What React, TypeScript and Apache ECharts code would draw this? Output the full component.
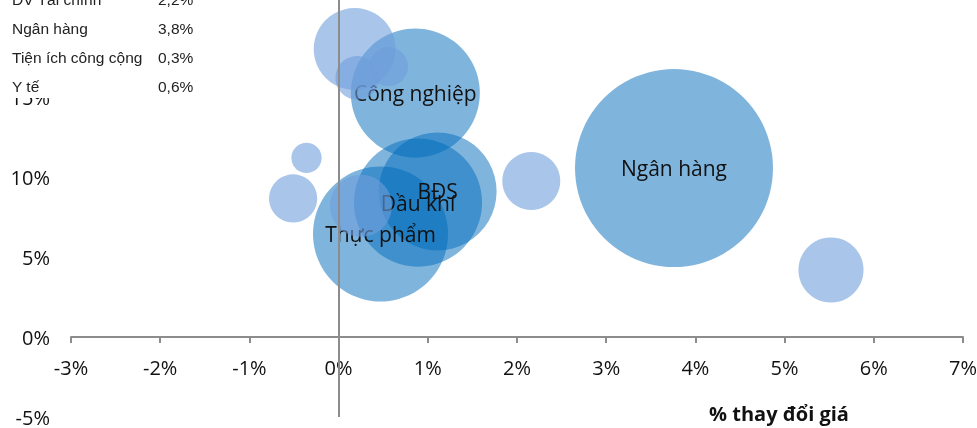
import React, { useEffect, useRef } from "react";
import * as echarts from "echarts";

// Labeled sectors (darker, semi-transparent bubbles)
const labeledNames = ["Công nghiệp", "Thực phẩm", "Dầu khí", "BĐS", "Ngân hàng"];
const labeledX = [0.86, 0.47, 0.89, 1.11, 3.76];
const labeledY = [15.25, 6.44, 8.4, 9.1, 10.56];
const labeledSize = [41.6, 45.6, 41.0, 34.8, 98.0];

// Unlabeled sectors (light bubbles)
const otherNames = ["", "", "Y tế", "", "", "Tiện ích công cộng", "DV Tài chính", ""];
const otherX = [0.18, 0.21, 0.56, -0.36, -0.51, 0.25, 2.16, 5.52];
const otherY = [18.0, 16.2, 16.9, 11.2, 8.66, 8.2, 9.75, 4.19];
const otherSize = [16.8, 4.8, 3.8, 2.3, 5.8, 9.6, 8.4, 10.6];

// Table in the top-left corner
const tableNames = ["DV Tài chính", "Ngân hàng", "Tiện ích công cộng", "Y tế"];
const tableValues = ["2,2%", "3,8%", "0,3%", "0,6%"];

const xTicks = { min: -3, max: 7, interval: 1 };
const yTicks = { min: -5, max: 25, interval: 5 };

const FONT = "'Open Sans', 'Noto Sans', sans-serif";

export default function App() {
  const ref = useRef<HTMLDivElement>(null);

  useEffect(() => {
    if (!ref.current) return;
    const chart = echarts.init(ref.current, undefined, { renderer: "svg" });
    const sizeFn = (v: number[]) => 20 * Math.sqrt(v[2]);

    const labeledData = labeledNames.map((n, i) => ({
      name: n,
      value: [labeledX[i], labeledY[i], labeledSize[i]],
    }));
    const otherData = otherNames.map((n, i) => ({
      name: n,
      value: [otherX[i], otherY[i], otherSize[i]],
    }));

    const rowY = [-1, 28, 57, 86];
    const tableGraphics: any[] = [
      {
        type: "rect",
        z: 100,
        shape: { x: 0, y: 0, width: 205, height: 98 },
        style: { fill: "#ffffff" },
      },
    ];
    tableNames.forEach((n, i) => {
      tableGraphics.push({
        type: "text",
        z: 101,
        x: 12,
        y: rowY[i],
        style: {
          text: n,
          fontFamily: "'Liberation Sans', Arial, sans-serif",
          fontSize: 15.5,
          fill: "#222",
          verticalAlign: "middle",
          align: "left",
        },
      });
      tableGraphics.push({
        type: "text",
        z: 101,
        x: 158,
        y: rowY[i],
        style: {
          text: tableValues[i],
          fontFamily: "'Liberation Sans', Arial, sans-serif",
          fontSize: 15.5,
          fill: "#222",
          verticalAlign: "middle",
          align: "left",
        },
      });
    });
    tableGraphics.push({
      type: "text",
      z: 101,
      x: 779,
      y: 413,
      style: {
        text: "% thay đổi giá",
        fontFamily: FONT,
        fontSize: 20,
        fontWeight: "bold",
        fill: "#111",
        verticalAlign: "middle",
        align: "center",
      },
    });

    chart.setOption({
      animation: false,
      grid: {
        left: 71,
        right: 14,
        top: -63,
        bottom: 11,
        containLabel: false,
        outerBoundsMode: "none",
      },
      xAxis: {
        type: "value",
        min: xTicks.min,
        max: xTicks.max,
        interval: xTicks.interval,
        position: "bottom",
        offset: -80,
        axisLine: { show: true, onZero: false, lineStyle: { color: "#8c8c8c", width: 2 } },
        axisTick: { show: true, length: 6, lineStyle: { color: "#8c8c8c", width: 2 } },
        splitLine: { show: false },
        axisLabel: {
          formatter: (v: number) => `${v}%`,
          fontFamily: FONT,
          fontSize: 20,
          color: "#111",
          margin: 20,
        },
      },
      yAxis: {
        type: "value",
        min: yTicks.min,
        max: yTicks.max,
        interval: yTicks.interval,
        axisLine: { show: false },
        axisTick: { show: false },
        splitLine: { show: false },
        axisLabel: {
          formatter: (v: number) => (v > 15 ? "" : `${v}%`),
          fontFamily: FONT,
          fontSize: 20,
          color: "#111",
          margin: 21,
        },
      },
      series: [
        {
          type: "scatter",
          name: "labeled",
          data: labeledData,
          symbolSize: sizeFn,
          itemStyle: { color: "rgba(0,107,187,0.5)", opacity: 1 },
          emphasis: { disabled: true },
          label: {
            show: true,
            position: "inside",
            formatter: (p: any) => p.name,
            fontFamily: FONT,
            fontSize: 21,
            color: "#111",
          },
          markLine: {
            silent: true,
            symbol: ["none", "none"],
            label: { show: false },
            lineStyle: { color: "#8c8c8c", width: 2, type: "solid" },
            data: [{ xAxis: 0 }],
          },
          z: 2,
        },
        {
          type: "scatter",
          name: "other",
          data: otherData,
          symbolSize: sizeFn,
          itemStyle: { color: "rgba(112,158,220,0.6)", opacity: 1 },
          emphasis: { disabled: true },
          label: { show: false },
          z: 3,
        },
      ],
      graphic: tableGraphics,
    });

    return () => chart.dispose();
  }, []);

  return (
    <div
      ref={ref}
      style={{ position: "fixed", left: 0, top: 0, width: 977, height: 428 }}
    />
  );
}
